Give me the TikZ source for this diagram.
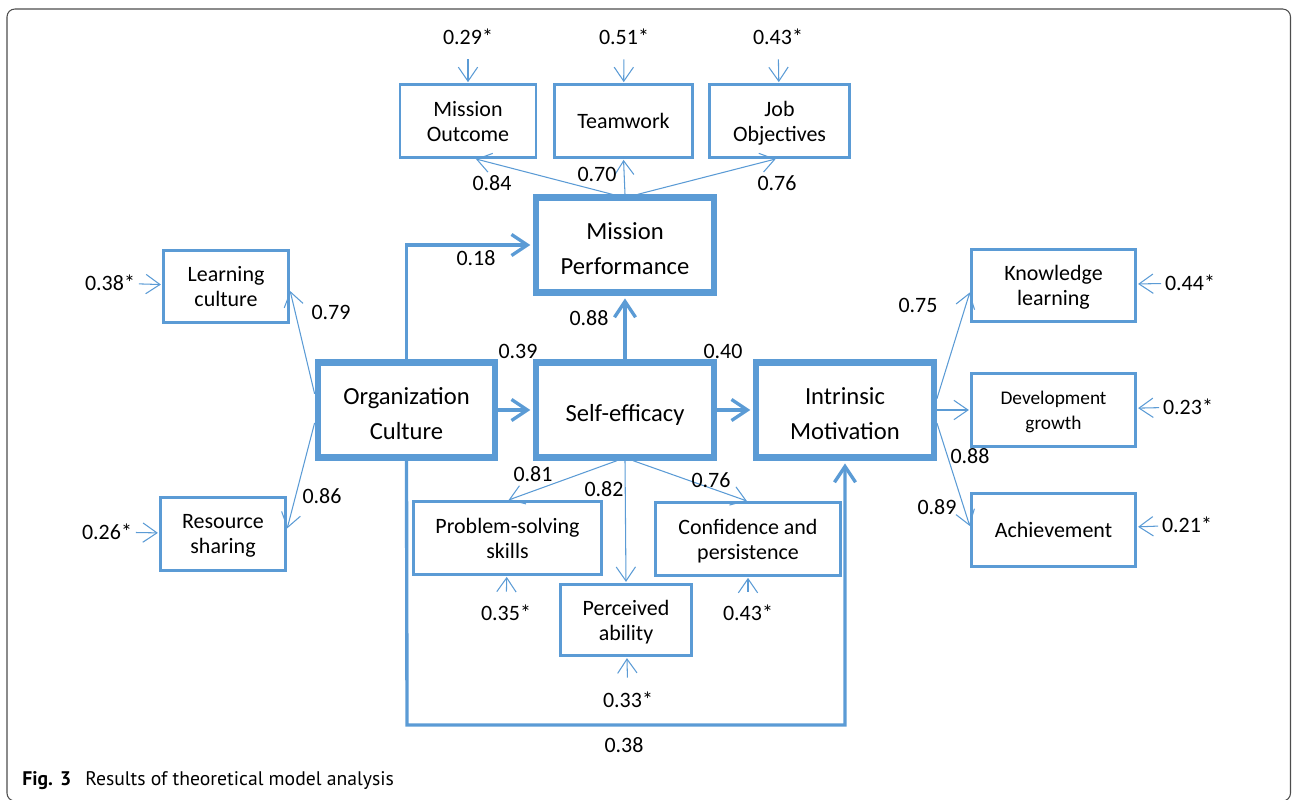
\documentclass[tikz,border=0pt]{standalone}
\usepackage{fontspec}
\setmainfont{Carlito}
\newfontfamily\capfont{PT Sans}
\usetikzlibrary{arrows.meta}
\definecolor{boxblue}{HTML}{5B9BD5}
\definecolor{framegray}{HTML}{4D4D4D}

\begin{document}
\begin{tikzpicture}[x=0.02cm,y=-0.02cm,
    bigbox/.style={draw=boxblue,line width=3.6pt,minimum width=3.55cm,minimum height=1.9cm,align=center,
        text height=33.8pt,text depth=0pt,font=\fontsize{14}{19.8}\selectfont},
    smallbox/.style={draw=boxblue,line width=1.6pt,minimum height=1.45cm,inner sep=0pt,align=center,
        text depth=0pt,font=\fontsize{12.5}{14.2}\selectfont},
    val/.style={font=\fontsize{12.5}{15}\selectfont,inner sep=2pt},
    mainarr/.style={draw=boxblue,line width=1.9pt,-{Straight Barb[length=9pt,width=12pt]},shorten >=1.6pt},
    thinarr/.style={draw=boxblue,line width=0.6pt,-{Straight Barb[length=8pt,width=11pt]},shorten >=0.7pt},
    errarr/.style={thinarr,shorten <=#1},
    errarr/.default=0pt]
    \useasboundingbox (0,0) rectangle (1292,799);
    \draw[framegray,line width=0.6pt,rounded corners=4.5pt] (7,9) rectangle (1290.5,801);

    % constructs
    \node[bigbox] (MP) at (625,245) {Mission\\Performance};
    \node[bigbox] (OC) at (406.5,410) {Organization\\Culture};
    \node[bigbox,text height=13.2pt,text depth=0pt] (SE) at (625,410) {Self-efficacy};
    \node[bigbox] (IM) at (845,410) {Intrinsic\\Motivation};

    % indicators
    \node[smallbox,minimum width=2.72cm] (MO) at (468,121) {Mission\\Outcome};
    \node[smallbox,minimum width=2.76cm] (TW) at (623.5,121) {Teamwork};
    \node[smallbox,minimum width=2.80cm] (JO) at (779.5,121) {Job\\Objectives};
    \node[smallbox,minimum width=2.50cm] (LC) at (226,286.5) {Learning\\culture};
    \node[smallbox,minimum width=2.50cm] (RS) at (223,534) {Resource\\sharing};
    \node[smallbox,minimum width=3.28cm] (KL) at (1053.5,285.5) {Knowledge\\learning};
    \node[smallbox,minimum width=3.28cm,font=\fontsize{11}{14}\selectfont] (DG) at (1053.5,410) {Development\\growth};
    \node[smallbox,minimum width=3.28cm] (AC) at (1053.5,530) {Achievement};
    \node[smallbox,minimum width=3.76cm] (PS) at (507.5,538) {Problem-solving\\skills};
    \node[smallbox,minimum width=3.70cm] (CP) at (748,539) {Confidence and\\persistence};
    \node[smallbox,minimum width=2.62cm,minimum height=1.42cm] (PA) at (626,620) {Perceived\\ability};

    % structural paths
    \draw[mainarr] (OC) -- (SE);
    \draw[mainarr] (SE) -- (IM);
    \draw[mainarr] (SE) -- (MP);
    \draw[mainarr] (OC.north) |- (MP.west);
    \coordinate (low) at (407,725);
    \draw[mainarr] (OC.south) -- (low) -| (IM.south);

    % loadings
    \draw[thinarr] (MP.104) -- (MO.-80);
    \draw[thinarr] (MP.north) -- (TW.south);
    \draw[thinarr] (MP.76) -- (JO.-94);
    \draw[thinarr] (OC.170) -- (LC.-3);
    \draw[thinarr] (OC.188) -- (RS.4);
    \draw[thinarr] (SE.-99) -- (PS.north);
    \draw[thinarr] (SE.south) -- (PA.north);
    \draw[thinarr] (SE.-81) -- (CP.north);
    \draw[thinarr] (IM.7) -- (KL.184);
    \draw[thinarr] (IM.east) -- (DG.west);
    \draw[thinarr] (IM.-8) -- (AC.178);

    % coefficients
    \node[val] (c18) at (476,258) {0.18};
    \node[val] (c88) at (589,318) {0.88};
    \node[val] (c39) at (518,351) {0.39};
    \node[val] (c40) at (723,351) {0.40};
    \node[val] (c38) at (624,745) {0.38};
    \node[val] (c84) at (492,183) {0.84};
    \node[val] (c70) at (597,174) {0.70};
    \node[val] (c76a) at (777,183) {0.76};
    \node[val] (c79) at (331,312) {0.79};
    \node[val] (c86) at (322,496) {0.86};
    \node[val] (c81) at (533,474) {0.81};
    \node[val] (c82) at (604,489) {0.82};
    \node[val] (c76b) at (711,480) {0.76};
    \node[val] (c75) at (918,305) {0.75};
    \node[val] (c88b) at (970,456) {0.88};
    \node[val] (c89) at (937,507) {0.89};

    % error terms
    \node[val] (e29) at (468,37) {0.29*};
    \node[val] (e51) at (624,37) {0.51*};
    \node[val] (e43a) at (778,37) {0.43*};
    \node[val] (e38) at (110,283) {0.38*};
    \node[val] (e26) at (107,532) {0.26*};
    \node[val] (e44) at (1190,283) {0.44*};
    \node[val] (e23) at (1188,407) {0.23*};
    \node[val] (e21) at (1187,525) {0.21*};
    \node[val] (e35) at (506,613) {0.35*};
    \node[val] (e43b) at (748,613) {0.43*};
    \node[val] (e33) at (628,700) {0.33*};
    \draw[errarr=6pt] (e29) -- (MO);
    \draw[errarr=6pt] (e51) -- (TW);
    \draw[errarr=6pt] (e43a) -- (JO);
    \draw[errarr] (e38) -- (LC);
    \draw[errarr] (e26) -- (RS);
    \draw[errarr] (e44) -- (KL);
    \draw[errarr] (e23) -- (DG);
    \draw[errarr] (e21) -- (AC);
    \draw[errarr=5.5pt] (e35) -- (PS);
    \draw[errarr=5.5pt] (e43b) -- (CP);
    \draw[errarr=6pt] (e33) -- (PA);

    \node[anchor=base west,inner sep=0pt,font=\capfont\fontsize{11.2}{12}\selectfont] (cap) at (22,785)
        {\textbf{Fig.\hspace{4pt}3}\hspace{8pt}Results of theoretical model analysis};
\end{tikzpicture}
\end{document}
